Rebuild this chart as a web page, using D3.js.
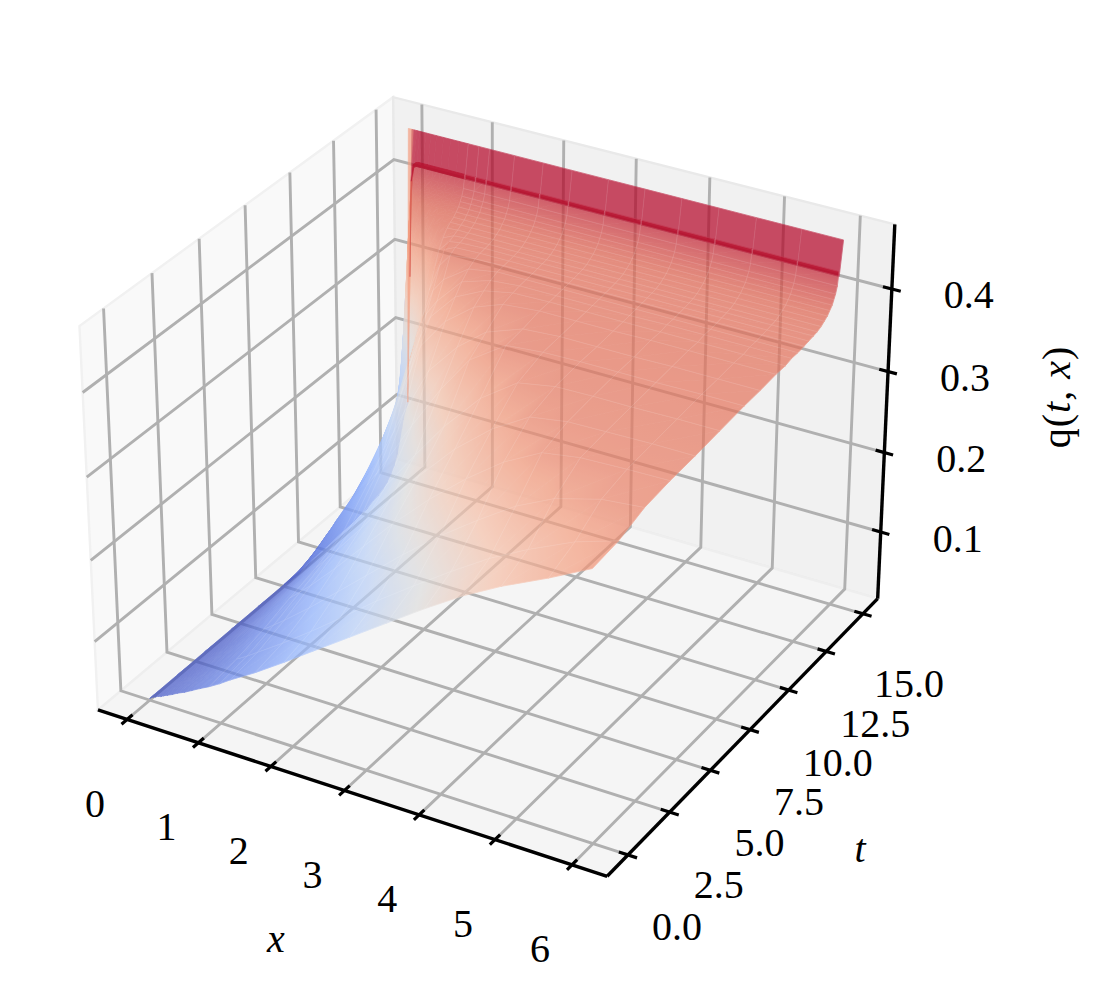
<!DOCTYPE html>
<html><head><meta charset="utf-8">
<script src="https://cdn.jsdelivr.net/npm/d3@7"></script>
<style>html,body{margin:0;padding:0;background:#fff}svg{display:block}text{font-family:"Liberation Serif",serif;fill:#000}</style>
</head><body><svg id="c" width="1107" height="1003"></svg>
<script>
const xValues=[0,.05,.08,.12,.16,.2,.25,.32,.4,.5,.6,.72,.85,1,1.15,1.5,1.9,2.3,2.8,3.3,3.8,4.3,4.8,5.4,5.95];
const tValues=[0,1.5,3,4.5,6,7.5,9,10,11,11.6,12,12.4,12.8,13.1,13.4,13.65,13.9,14.1,14.3,14.45,14.6,14.7,14.8,14.9,14.98,15,15.2];
const qValues=[
[.017,.020,.021,.023,.024,.026,.028,.031,.035,.039,.044,.050,.056,.064,.073,.092,.116,.141,.172,.203,.234,.263,.288,.314,.340],
[.017,.020,.021,.023,.024,.026,.028,.032,.036,.041,.046,.053,.061,.069,.078,.099,.125,.152,.187,.219,.250,.279,.303,.328,.344],
[.017,.020,.021,.023,.025,.027,.030,.034,.039,.045,.052,.060,.069,.079,.089,.114,.145,.176,.215,.251,.283,.313,.335,.350,.355],
[.017,.020,.021,.024,.027,.030,.033,.038,.044,.052,.060,.069,.080,.092,.104,.135,.173,.211,.254,.292,.325,.349,.356,.358,.359],
[.017,.020,.022,.025,.028,.032,.036,.042,.049,.058,.067,.078,.090,.105,.120,.157,.202,.242,.288,.325,.352,.359,.360,.361,.361],
[.017,.020,.023,.027,.030,.034,.039,.046,.054,.065,.076,.089,.104,.121,.139,.184,.231,.276,.323,.354,.362,.363,.363,.364,.364],
[.019,.025,.030,.038,.044,.051,.059,.069,.082,.095,.107,.122,.139,.159,.180,.231,.285,.331,.361,.365,.366,.366,.366,.367,.367],
[.020,.028,.034,.043,.050,.059,.068,.081,.094,.110,.125,.145,.166,.193,.221,.281,.320,.348,.364,.367,.367,.367,.368,.368,.368],
[.022,.031,.040,.050,.061,.071,.082,.098,.114,.134,.157,.184,.215,.250,.286,.325,.352,.365,.369,.369,.369,.370,.370,.370,.370],
[.022,.033,.043,.055,.066,.079,.091,.107,.126,.150,.177,.208,.245,.283,.312,.345,.362,.369,.370,.370,.370,.370,.370,.370,.370],
[.024,.035,.046,.060,.072,.084,.099,.116,.138,.166,.197,.234,.273,.306,.325,.357,.368,.371,.371,.371,.371,.372,.372,.372,.372],
[.024,.036,.048,.063,.077,.090,.104,.124,.148,.179,.213,.252,.293,.328,.345,.366,.372,.372,.372,.372,.372,.372,.372,.372,.372],
[.028,.043,.056,.072,.087,.102,.118,.140,.165,.198,.235,.277,.318,.352,.368,.372,.373,.373,.373,.373,.373,.373,.373,.373,.373],
[.029,.047,.062,.082,.100,.116,.136,.160,.186,.222,.258,.300,.338,.367,.373,.374,.374,.374,.374,.374,.374,.374,.374,.374,.374],
[.032,.053,.072,.095,.118,.140,.163,.191,.220,.256,.292,.330,.358,.372,.374,.375,.375,.375,.375,.375,.375,.375,.375,.375,.375],
[.036,.062,.085,.113,.140,.165,.190,.220,.250,.285,.320,.350,.369,.375,.376,.376,.376,.376,.376,.376,.376,.376,.376,.376,.376],
[.042,.075,.105,.140,.172,.200,.228,.258,.288,.320,.347,.368,.377,.378,.378,.378,.378,.378,.378,.378,.378,.378,.378,.378,.378],
[.050,.092,.130,.175,.215,.250,.283,.312,.337,.358,.372,.379,.381,.381,.381,.381,.381,.381,.381,.381,.381,.381,.381,.381,.381],
[.062,.120,.170,.225,.270,.303,.330,.352,.368,.378,.382,.384,.384,.384,.384,.384,.384,.384,.384,.384,.384,.384,.384,.384,.384],
[.075,.150,.212,.272,.315,.342,.362,.376,.384,.387,.388,.388,.388,.388,.388,.388,.388,.388,.388,.388,.388,.388,.388,.388,.388],
[.090,.185,.260,.320,.355,.372,.384,.390,.392,.392,.392,.392,.392,.392,.392,.392,.392,.392,.392,.392,.392,.392,.392,.392,.392],
[.100,.210,.295,.355,.380,.390,.395,.397,.397,.397,.397,.397,.397,.397,.397,.397,.397,.397,.397,.397,.397,.397,.397,.397,.397],
[.108,.235,.330,.385,.398,.401,.402,.402,.402,.402,.402,.402,.402,.402,.402,.402,.402,.402,.402,.402,.402,.402,.402,.402,.402],
[.112,.255,.360,.405,.409,.410,.410,.410,.410,.410,.410,.410,.410,.410,.410,.410,.410,.410,.410,.410,.410,.410,.410,.410,.410],
[.115,.270,.385,.422,.425,.426,.426,.426,.426,.426,.426,.426,.426,.426,.426,.426,.426,.426,.426,.426,.426,.426,.426,.426,.426],
[.118,.280,.400,.418,.420,.420,.420,.420,.420,.420,.420,.420,.420,.420,.420,.420,.420,.420,.420,.420,.420,.420,.420,.420,.420],
[.460,.460,.460,.460,.460,.460,.460,.460,.460,.460,.460,.460,.460,.460,.460,.460,.460,.460,.460,.460,.460,.460,.460,.460,.460]
];
const xTicks=[0,1,2,3,4,5,6];
const tTicks=[0,2.5,5,7.5,10,12.5,15];
const zTicks=[.1,.2,.3,.4];
const xLim=[-.412,6.45], tLim=[-1.22,16.02], zLim=[.01466,.477];
const coolwarmStops=["#3b4cc0","#6282ea","#8db0fe","#b8d0f9","#dddddd","#f5c4ad","#f49a7b","#de614d","#b40426"];
const colorRange=[.015,.438];

const svg=d3.select("#c"), defs=svg.append("defs");
const sx=d3.scaleLinear().domain(xLim).range([0,1]);
const st=d3.scaleLinear().domain(tLim).range([0,1]);
const sz=d3.scaleLinear().domain(zLim).range([0,1]);
const boxX=1.19048, boxZ=.89286, dist=10, scale=4900, ox=495, oy=468;
function projN(a,b,c){
  const dx=(a-.5)*boxX, dy=(b-.5)*boxX, dz=(c-.5)*boxZ;
  const cosE=Math.cos(Math.PI/6), sinE=.5, cosA=.5, sinA=-Math.sqrt(3)/2;
  const n=[cosE*cosA,cosE*sinA,sinE];
  const u=[-sinA,cosA,0];
  const v=[n[1]*u[2]-n[2]*u[1],n[2]*u[0]-n[0]*u[2],n[0]*u[1]-n[1]*u[0]];
  const xc=dx*u[0]+dy*u[1], yc=dx*v[0]+dy*v[1]+dz*v[2], dn=dx*n[0]+dy*n[1]+dz*n[2];
  const w=dist-dn;
  return [ox+scale*xc/w, oy-scale*yc/w, w];
}
const P=(x,t,z)=>projN(sx(x),st(t),sz(z));
const colorT=d3.scaleLinear().domain(colorRange).range([0,1]).clamp(true);
const cmap=d3.scaleLinear().domain(coolwarmStops.map((_,i)=>i/(coolwarmStops.length-1))).range(coolwarmStops);
const col=q=>cmap(colorT(q));
const line=d3.line();

// panes
const panes=[
 {c:[[0,0,0],[0,1,0],[0,1,1],[0,0,1]],f:"#f9f9f9",s:"#f1f1f1"},
 {c:[[0,1,0],[1,1,0],[1,1,1],[0,1,1]],f:"#f1f1f1",s:"#e9e9e9"},
 {c:[[0,0,0],[1,0,0],[1,1,0],[0,1,0]],f:"#f5f5f5",s:"#eeeeee"}
];
svg.append("g").selectAll("path").data(panes).join("path")
 .attr("d",d=>line(d.c.map(p=>projN(...p).slice(0,2)))+"Z")
 .attr("fill",d=>d.f).attr("stroke",d=>d.s).attr("stroke-width",2.4);

// grid
const [x0,x1]=xLim,[t0,t1]=tLim,[z0,z1]=zLim;
const gridLines=[
 ...xTicks.map(x=>[[x,t0,z0],[x,t1,z0],[x,t1,z1]]),
 ...tTicks.map(t=>[[x1,t,z0],[x0,t,z0],[x0,t,z1]]),
 ...zTicks.map(z=>[[x1,t1,z],[x0,t1,z],[x0,t0,z]])
];
svg.append("g").selectAll("path").data(gridLines).join("path")
 .attr("d",d=>line(d.map(p=>P(...p).slice(0,2))))
 .attr("fill","none").attr("stroke","#b0b0b0").attr("stroke-width",2.9);

// surface: each mesh cell is two triangles shaded from their corner values.
// Sheets that face away from the viewer and the top row sit in their own layers so overlaps darken.
const shapes={front:[],back:[],top:[]};
const layerOpacity={back:.4,front:.7,top:.7};
let gid=0;
function addFlat(layer,pts,q){shapes[layer].push({pts,fill:col(q),depth:d3.mean(pts,p=>p[2])});}
function addTri(a,b,c){
  const pts=[a.p,b.p,c.p], qs=[a.q,b.q,c.q], lo=d3.min(qs), hi=d3.max(qs);
  const ux=b.p[0]-a.p[0], uy=b.p[1]-a.p[1], vx=c.p[0]-a.p[0], vy=c.p[1]-a.p[1];
  const det=ux*vy-uy*vx, layer=det>0?"back":"front";
  if(hi-lo<2e-4||Math.abs(det)<1e-3){addFlat(layer,pts,d3.mean(qs));return;}
  const gx=((b.q-a.q)*vy-(c.q-a.q)*uy)/det, gy=(ux*(c.q-a.q)-vx*(b.q-a.q))/det, g2=gx*gx+gy*gy;
  const s=[a,b,c].find(v=>v.q===lo).p;
  const id="g"+(gid++), span=(hi-lo)/g2;
  const gr=defs.append("linearGradient").attr("id",id).attr("gradientUnits","userSpaceOnUse")
   .attr("x1",s[0]).attr("y1",s[1]).attr("x2",s[0]+gx*span).attr("y2",s[1]+gy*span);
  d3.range(5).forEach(k=>gr.append("stop").attr("offset",k/4).attr("stop-color",col(lo+(hi-lo)*k/4)));
  shapes[layer].push({pts,fill:`url(#${id})`,depth:d3.mean(pts,p=>p[2])});
}
for(let i=0;i<tValues.length-1;i++)for(let j=0;j<xValues.length-1;j++){
  const v=[[j,i],[j+1,i],[j+1,i+1],[j,i+1]].map(([a,b])=>({q:qValues[b][a],p:P(xValues[a],tValues[b],qValues[b][a])}));
  if(v[0].q-v[3].q>.003&&v[1].q-v[2].q>.003) continue;
  if(i===tValues.length-2){addFlat("top",v.map(d=>d.p),d3.mean(v,d=>d.q));}
  else{addTri(v[0],v[1],v[2]);addTri(v[0],v[2],v[3]);}
}
["back","front","top"].forEach(layer=>{
  const arr=shapes[layer].sort((a,b)=>b.depth-a.depth);
  svg.append("g").attr("opacity",layerOpacity[layer]).attr("stroke-width",.8).attr("stroke-linejoin","round")
   .selectAll("path").data(arr).join("path")
   .attr("d",d=>line(d.pts.map(p=>p.slice(0,2)))+"Z")
   .attr("fill",d=>d.fill).attr("stroke",d=>d.fill);
});
// faint mesh lines on the wider cells
const firstCol=xValues.indexOf(.85);
const meshLines=[
 ...tValues.map((t,i)=>xValues.slice(firstCol).map((x,k)=>P(x,t,qValues[i][k+firstCol]).slice(0,2))),
 ...xValues.slice(firstCol).map((x,k)=>tValues.map((t,i)=>P(x,t,qValues[i][k+firstCol]).slice(0,2)))
];
svg.append("g").selectAll("path").data(meshLines).join("path")
 .attr("d",line).attr("fill","none").attr("stroke","#fff").attr("stroke-opacity",.13).attr("stroke-width",.9);

// axes
const axG=svg.append("g").attr("fill","none").attr("stroke","#000").attr("stroke-linecap","butt");
const axisLines=[[[0,0,0],[1,0,0]],[[1,0,0],[1,1,0]],[[1,1,0],[1,1,1]]];
axG.selectAll("path.a").data(axisLines).join("path").attr("class","a")
 .attr("d",d=>line(d.map(p=>projN(...p).slice(0,2)))).attr("stroke-width",3.4).attr("stroke-linejoin","round");
const tk=.017;
const tickSegs=[
 ...xTicks.map(x=>[[sx(x),-tk,0],[sx(x),tk,0]]),
 ...tTicks.map(t=>[[1-tk,st(t),0],[1+tk,st(t),0]]),
 ...zTicks.map(z=>[[1-tk,1,sz(z)],[1+tk,1,sz(z)]])
];
axG.selectAll("path.t").data(tickSegs).join("path").attr("class","t")
 .attr("d",d=>line(d.map(p=>projN(...p).slice(0,2)))).attr("stroke-width",3.2);

// labels
const fs=40;
const lab=svg.append("g").attr("font-size",fs).attr("text-anchor","middle").attr("dominant-baseline","central");
const xTickText=xTicks.map(String), tTickText=tTicks.map(d=>d.toFixed(1)), zTickText=zTicks.map(d=>d.toFixed(1));
xTicks.forEach((x,i)=>{const p=projN(sx(x),0,0);lab.append("text").attr("x",p[0]-32).attr("y",p[1]+84).text(xTickText[i]);});
tTicks.forEach((t,i)=>{const p=projN(1,st(t),0);lab.append("text").attr("x",p[0]+49-(i===6?3:0)).attr("y",p[1]+72-(i===6?2:0)).text(tTickText[i]);});
zTicks.forEach((z,i)=>{const p=projN(1,1,sz(z));lab.append("text").attr("x",p[0]+77).attr("y",p[1]+6).text(zTickText[i]);});
lab.append("text").attr("x",276).attr("y",938).attr("font-style","italic").text("x");
lab.append("text").attr("x",860).attr("y",848).attr("font-style","italic").text("t");
const ql=lab.append("text").attr("transform","translate(1056,397) rotate(-90)").attr("letter-spacing",1);
ql.append("tspan").text("q(");
ql.append("tspan").attr("font-style","italic").text("t");
ql.append("tspan").text(", ");
ql.append("tspan").attr("font-style","italic").text("x");
ql.append("tspan").text(")");
</script></body></html>
